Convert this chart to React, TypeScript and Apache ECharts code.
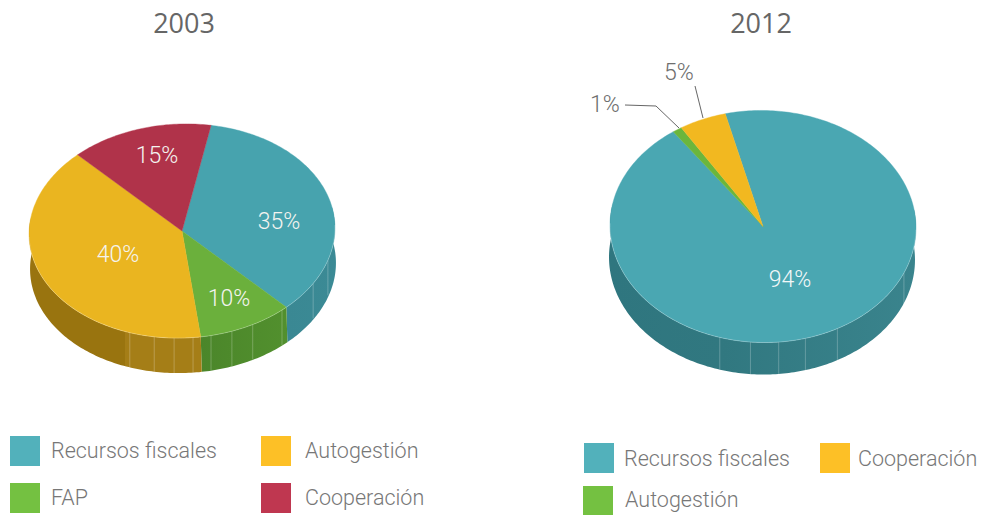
import React, { useEffect, useRef } from "react";
import * as echarts from "echarts";

// ---- data ----
const titles = ["2003", "2012"];
const categories2003 = ["Recursos fiscales", "FAP", "Autogestión", "Cooperación"];
const values2003 = [35, 10, 40, 15];
const categories2012 = ["Recursos fiscales", "Autogestión", "Cooperación"];
const values2012 = [94, 1, 5];

// ---- styling / layout ----
const TOP_2003 = ["#47a3ae", "#6bb03c", "#eab520", "#b0334a"];
const WALL_2003: any[] = [
  [[0, "#3a8893"], [1, "#3b8a95"]],
  [[0, "#4b862a"], [1, "#52902e"]],
  [[0, "#99740f"], [0.555, "#99740f"], [0.555, "#a57e17"], [1, "#a57e17"]],
  [[0, "#8a2236"], [1, "#8a2236"]],
];
const TOP_2012 = ["#4aa7b2", "#6bb63c", "#f2b820"];
const WALL_2012: any[] = [
  [[0, "#2f767f"], [0.37, "#317880"], [1, "#3a848d"]],
  [[0, "#4c882a"], [1, "#4c882a"]],
  [[0, "#a57e17"], [1, "#a57e17"]],
];
const PIE_2003 = { cx: 182, cy: 231, rx: 153, ry: 107, depth: 35, shift: 1, rot: -2.2, start: 12.5 };
const PIE_2012 = { cx: 763, cy: 226.5, rx: 153, ry: 116, depth: 32, shift: -1, rot: 1.2, start: -15.2 };
const FACETS_2003 = [201.5, 192, 184.5, 177.4, 170.6, 162.5, 154, 140.7, 122.5, 109];
const FACETS_2012 = [195.5, 183.8, 173.2, 163, 150, 112];
const LABELS_2003 = [[279, 221], [229, 298], [118, 254], [157, 155]];
const LABELS_2012 = [[790, 279], [605, 104], [679, 72]];
const LABEL_COLORS_2012 = ["#f2f8f8", "#6e6e6e", "#6e6e6e"];
const LEADERS_2012: number[][][] = [
  [[625, 105], [656, 106], [679, 128]],
  [[695, 86], [703, 118]],
];
const LEGEND: [number, number, number, number, string, string][] = [
  [10, 436, 30, 30, "#52b1bb", categories2003[0]],
  [261, 436, 30, 30, "#fdc026", categories2003[2]],
  [10, 483, 30, 30, "#74c141", categories2003[1]],
  [261, 483, 30, 30, "#bf3750", categories2003[3]],
  [584, 443, 30, 30, "#52b1bb", categories2012[0]],
  [820, 443, 30, 30, "#fdc026", categories2012[2]],
  [583, 486, 30, 29, "#74c141", categories2012[1]],
];
const LEGEND_TEXT_X = [51, 305, 51, 305, 624, 858, 625];
const LEGEND_TEXT_DY = [-1, -1, -1, -1, 0, 0, -1];
const FONT = "Roboto";

type Pie = typeof PIE_2003;

function rim(p: Pie, deg: number, down = 0): number[] {
  const t = (deg * Math.PI) / 180;
  const r = (p.rot * Math.PI) / 180;
  const x0 = p.rx * Math.sin(t);
  const y0 = -p.ry * Math.cos(t);
  return [
    p.cx + x0 * Math.cos(r) - y0 * Math.sin(r) + (down ? p.shift : 0),
    p.cy + x0 * Math.sin(r) + y0 * Math.cos(r) + down,
  ];
}

function arc(p: Pie, a: number, b: number, down = 0): number[][] {
  const pts: number[][] = [];
  const n = Math.max(2, Math.ceil(b - a));
  for (let i = 0; i <= n; i++) pts.push(rim(p, a + ((b - a) * i) / n, down));
  return pts;
}

function sliceRange(values: number[], idx: number, start: number) {
  const total = values.reduce((s, v) => s + v, 0);
  let acc = 0;
  for (let i = 0; i < idx; i++) acc += values[i];
  return [start + (acc / total) * 360, start + ((acc + values[idx]) / total) * 360];
}

function wallSeries(p: Pie, values: number[], walls: any[], facets: number[]) {
  return {
    type: "custom",
    coordinateSystem: "none",
    silent: true,
    z: 1,
    data: values.map((v) => [v]),
    renderItem: (params: any) => {
      const i = params.dataIndex;
      const [a, b] = sliceRange(values, i, p.start);
      const visA = Math.max(a, 80);
      const visB = Math.min(b, 280);
      const children: any[] = [];
      if (visB > visA) {
        const outer = arc(p, visA, visB, p.depth);
        const inner = arc(p, visA, visB, 0).reverse();
        const stops = walls[i];
        children.push({
          type: "polygon",
          shape: { points: outer.concat(inner) },
          style: {
            fill: new echarts.graphic.LinearGradient(0, 0, 1, 0,
              stops.map((s: any[]) => ({ offset: s[0], color: s[1] })), false),
            lineWidth: 0,
          },
        });
      }
      for (const f of facets) {
        if (f >= a && f < b) {
          children.push({
            type: "line",
            shape: {
              x1: rim(p, f)[0], y1: rim(p, f)[1],
              x2: rim(p, f, p.depth)[0] - p.shift, y2: rim(p, f, p.depth)[1],
            },
            style: { stroke: "rgba(255,255,255,0.24)", lineWidth: 1 },
          });
        }
      }
      return { type: "group", children };
    },
  };
}

function topSeries(p: Pie, values: number[], tops: string[], labels: number[][], labelColors: string[] | null) {
  return {
    type: "custom",
    coordinateSystem: "none",
    silent: true,
    z: 2,
    data: values.map((v) => [v]),
    renderItem: (params: any, api: any) => {
      const i = params.dataIndex;
      const [a, b] = sliceRange(values, i, p.start);
      const pts = [[p.cx, p.cy]].concat(arc(p, a, b));
      const children: any[] = [
        {
          type: "polygon",
          shape: { points: pts },
          style: { fill: tops[i], stroke: tops[i], lineWidth: 0.4 },
        },
      ];
      const fa = Math.max(a, 90);
      const fb = Math.min(b, 270);
      if (fb > fa) {
        children.push({
          type: "polyline",
          shape: { points: arc(p, fa, fb) },
          style: { fill: "none", stroke: "rgba(255,255,255,0.4)", lineWidth: 0.6 },
        });
      }
      children.push({
        type: "text",
        z2: 5,
        style: {
          x: labels[i][0],
          y: labels[i][1],
          text: `${api.value(0)}%`,
          align: "center",
          verticalAlign: "middle",
          fill: labelColors ? labelColors[i] : "#f4f4f0",
          font: `300 23px ${FONT}`,
        },
      });
      return { type: "group", children };
    },
  };
}

export default function App() {
  const ref = useRef<HTMLDivElement>(null);
  useEffect(() => {
    document.body.style.margin = "0";
    const chart = echarts.init(ref.current!, undefined, { renderer: "svg" });
    const graphic: any[] = [];
    LEGEND.forEach(([x, y, w, h, color, name], i) => {
      graphic.push({ type: "rect", left: x, top: y, shape: { width: w, height: h }, style: { fill: color } });
      graphic.push({
        type: "text",
        x: LEGEND_TEXT_X[i],
        y: y + h / 2 + LEGEND_TEXT_DY[i],
        style: { text: name, fill: "#777777", font: `300 21.5px ${FONT}`, verticalAlign: "middle" },
      });
    });
    LEADERS_2012.forEach((pts) => {
      graphic.push({
        type: "polyline",
        shape: { points: pts },
        style: { fill: "none", stroke: "#666666", lineWidth: 1 },
      });
    });
    chart.setOption({
      animation: false,
      backgroundColor: "#ffffff",
      title: [
        { text: titles[0], left: 179, top: 4, textAlign: "center", textStyle: { fontFamily: "Open Sans", fontWeight: 400, fontSize: 27, color: "#666666" } },
        { text: titles[1], left: 756, top: 4, textAlign: "center", textStyle: { fontFamily: "Open Sans", fontWeight: 400, fontSize: 27, color: "#666666" } },
      ],
      graphic,
      series: [
        wallSeries(PIE_2003, values2003, WALL_2003, FACETS_2003),
        topSeries(PIE_2003, values2003, TOP_2003, LABELS_2003, null),
        wallSeries(PIE_2012, values2012, WALL_2012, FACETS_2012),
        topSeries(PIE_2012, values2012, TOP_2012, LABELS_2012, LABEL_COLORS_2012),
      ],
    });
    return () => chart.dispose();
  }, []);
  return <div ref={ref} style={{ width: 985, height: 515 }} />;
}
